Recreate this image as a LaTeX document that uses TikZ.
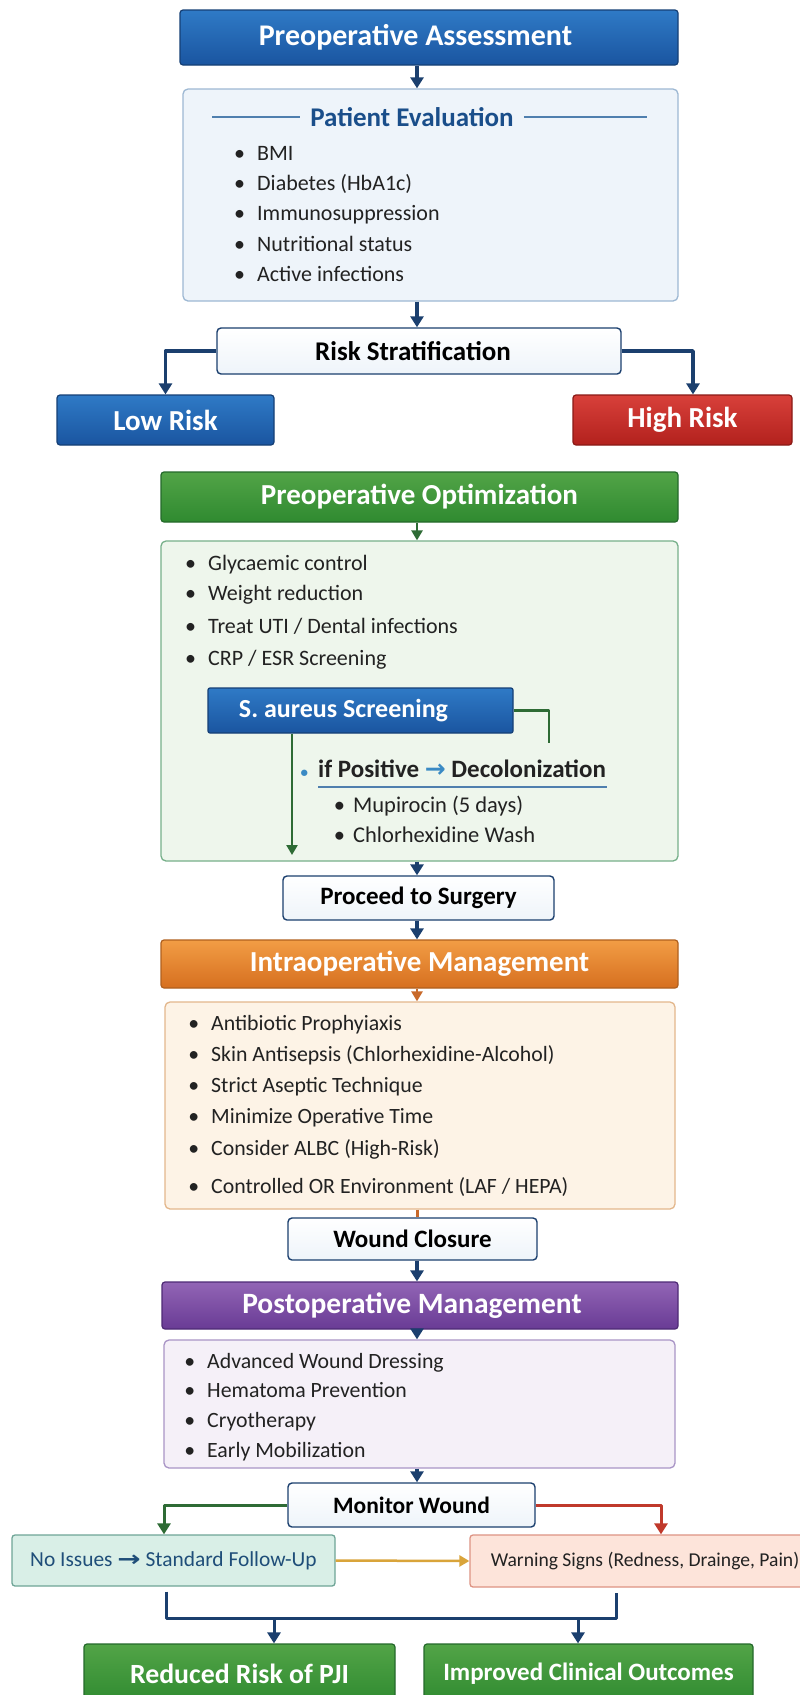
\documentclass[tikz,border=0pt]{standalone}
\usepackage{fontspec}
\usepackage{graphicx}
\setmainfont{Carlito}
\newfontfamily\arrowfont{DejaVu Sans}
\usetikzlibrary{arrows.meta}

\definecolor{navy}{HTML}{1B3F6E}
\definecolor{blueT}{HTML}{2F7AC6}
\definecolor{blueB}{HTML}{1A55A0}
\definecolor{blueD}{HTML}{153F75}
\definecolor{redT}{HTML}{D8403A}
\definecolor{redB}{HTML}{B2211D}
\definecolor{redD}{HTML}{8A1A16}
\definecolor{grnT}{HTML}{52A447}
\definecolor{grnB}{HTML}{2F8A30}
\definecolor{grnD}{HTML}{24692B}
\definecolor{orgT}{HTML}{F29D45}
\definecolor{orgB}{HTML}{D66F1F}
\definecolor{orgD}{HTML}{B0601E}
\definecolor{purT}{HTML}{9265B5}
\definecolor{purB}{HTML}{693B95}
\definecolor{purD}{HTML}{4E2A75}
\definecolor{evalFill}{HTML}{EEF4FA}
\definecolor{evalLine}{HTML}{9DB8D3}
\definecolor{evalText}{HTML}{1A4E8A}
\definecolor{evalRule}{HTML}{4F7FAE}
\definecolor{optFill}{HTML}{EEF6EC}
\definecolor{optLine}{HTML}{77B08A}
\definecolor{grnLink}{HTML}{2E6B35}
\definecolor{intFill}{HTML}{FDF3E6}
\definecolor{intLine}{HTML}{E3B78C}
\definecolor{orgLink}{HTML}{C8692A}
\definecolor{postFill}{HTML}{F5F0F8}
\definecolor{postLine}{HTML}{A995C6}
\definecolor{okFill}{HTML}{D9EFE7}
\definecolor{okLine}{HTML}{6FA597}
\definecolor{okText}{HTML}{1F4E79}
\definecolor{warnFill}{HTML}{FDE4DA}
\definecolor{warnLine}{HTML}{DD9383}
\definecolor{gold}{HTML}{D9A43A}
\definecolor{redLink}{HTML}{C0392B}
\definecolor{dotBlue}{HTML}{3A8AC4}
\definecolor{txt}{HTML}{222222}

\newcommand{\fsz}[1]{\fontsize{#1}{#1}\selectfont}
\newcommand{\bul}{\llap{\textbullet\hspace{12pt}}}

\begin{document}
\begin{tikzpicture}[x=1pt, y=-1pt, >={Triangle[width=13pt,length=11pt]}, line join=round,
  head/.style={rounded corners=3pt, line width=1.2pt, text=white, inner sep=0pt, font=\bfseries\fsz{29}},
  hblue/.style={head, top color=blueT, bottom color=blueB, draw=blueD},
  hred/.style={head, top color=redT, bottom color=redB, draw=redD},
  hgreen/.style={head, top color=grnT, bottom color=grnB, draw=grnD},
  horange/.style={head, top color=orgT, bottom color=orgB, draw=orgD},
  hpurple/.style={head, top color=purT, bottom color=purB, draw=purD},
  panel/.style={rounded corners=5pt, line width=1.3pt, inner sep=0pt},
  stage/.style={rounded corners=4pt, draw=navy, line width=1.4pt, top color=white, bottom color=evalFill, inner sep=0pt, text=black, font=\bfseries\fsz{25}},
  item/.style={anchor=base west, inner sep=0pt, text=txt, font=\fsz{22}},
  link/.style={navy, line width=3.5pt, ->},
  thinlink/.style={line width=2.5pt, ->, >={Triangle[width=11pt,length=10pt]}},
]
\useasboundingbox (0,0) rectangle (800,1695);
\clip (0,0) rectangle (800,1695);
\fill[white] (0,0) rectangle (800,1695);
\coordinate (ax) at (417,0);

% Preoperative assessment
\node[hblue, minimum width=498pt, minimum height=55pt, font=\bfseries\fsz{30}] (asmt) at (429,37.5) {Preoperative Assessment\hspace*{27pt}};
\node[panel, draw=evalLine, fill=evalFill, minimum width=495pt, minimum height=212pt] (eval) at (430.5,195) {};
\node[inner sep=10pt, text=evalText, font=\bfseries\fsz{27}] (evaltitle) at (412,117) {Patient Evaluation};
\draw[evalRule, line width=1.5pt] (212,117) -- (evaltitle.west) (evaltitle.east) -- (647,117);
\foreach \y/\t in {153/BMI, 183/{Diabetes (HbA1c)}, 213/Immunosuppression, 244/{Nutritional status}, 274/{Active infections}}
  \node[item] at (257,\y+7) {\bul\t};

\node[stage, minimum width=404pt, minimum height=46pt, font=\bfseries\fsz{27}] (risk) at (419,351) {Risk Stratification\hspace*{12pt}};
\node[hblue, minimum width=217pt, minimum height=50pt] (low) at (165.5,420) {Low Risk};
\node[hred, minimum width=219pt, minimum height=50pt] (high) at (682.5,420) {High Risk};
\coordinate (hiIn) at (693,0);

\draw[link] (asmt.south -| ax) -- (eval.north -| ax);
\draw[link] (eval.south -| ax) -- (risk.north -| ax);
\draw[link] (risk.west) -| (low.north);
\draw[link] (risk.east) -| (high.north -| hiIn);

% Optimization
\node[hgreen, minimum width=517pt, minimum height=50pt] (opt) at (419.5,497) {Preoperative Optimization};
\node[panel, draw=optLine, fill=optFill, minimum width=517pt, minimum height=320pt] (optbox) at (419.5,701) {};
\foreach \y/\t in {563/{Glycaemic control}, 593/{Weight reduction}, 626/{Treat UTI / Dental infections}, 658/{CRP / ESR Screening}}
  \node[item] at (208,\y+7) {\bul\t};
\node[hblue, rounded corners=2pt, minimum width=305pt, minimum height=45pt, font=\bfseries\fsz{26}] (saur) at (360.5,710.5) {S. aureus Screening\hspace*{34pt}};
\node[item, font=\bfseries\fsz{25}] (decol) at (318,777) {\llap{{\color{dotBlue}\fsz{15}\textbullet}\hspace{10pt}}if Positive {\arrowfont\bfseries\color{dotBlue}→} Decolonization};
\draw[evalRule, line width=1.5pt] (318,787) -- (607,787);
\foreach \y/\t in {805/{Mupirocin (5 days)}, 835/{Chlorhexidine Wash}}
  \node[item, font=\fsz{22.5}] at (353,\y+7) {\llap{\textbullet\hspace{8pt}}\t};
\coordinate (decolTop) at (549,743);
\coordinate (sauEnd) at (292,855);
\draw[grnLink, line width=2.5pt] (saur.east) -| (decolTop);
\draw[grnLink, thinlink] (saur.south -| sauEnd) -- (sauEnd);
\draw[grnLink, thinlink] (opt.south -| ax) -- (optbox.north -| ax);

\node[stage, minimum width=271pt, minimum height=44pt] (proc) at (418.5,898) {Proceed to Surgery};
\draw[link] (optbox.south -| ax) -- (proc.north -| ax);

% Intraoperative
\node[horange, minimum width=517pt, minimum height=48pt] (intra) at (419.5,964) {Intraoperative Management};
\node[panel, draw=intLine, fill=intFill, minimum width=510pt, minimum height=207pt] (intrabox) at (420,1105.5) {};
\foreach \y/\t in {1023/{Antibiotic Prophyiaxis}, 1054/{Skin Antisepsis (Chlorhexidine-Alcohol)}, 1085/{Strict Aseptic Technique}, 1116/{Minimize Operative Time}, 1148/{Consider ALBC (High-Risk)}, 1186/{Controlled OR Environment (LAF / HEPA)}}
  \node[item, font=\fsz{21.8}] at (211,\y+7) {\bul\t};
\draw[link] (proc.south -| ax) -- (intra.north -| ax);
\draw[orgLink, thinlink] (intra.south -| ax) -- (intrabox.north -| ax);

\node[stage, minimum width=249pt, minimum height=42pt] (closure) at (412.5,1239) {Wound Closure};
\draw[orgLink, line width=3pt] (intrabox.south -| ax) -- (closure.north -| ax);

% Postoperative
\node[hpurple, minimum width=516pt, minimum height=47pt, font=\bfseries\fsz{29.5}] (post) at (420,1305.5) {Postoperative Management\hspace*{16pt}};
\node[panel, draw=postLine, fill=postFill, minimum width=511pt, minimum height=128pt] (postbox) at (419.5,1404) {};
\foreach \y/\t in {1361/{Advanced Wound Dressing}, 1390/{Hematoma Prevention}, 1420/Cryotherapy, 1450/{Early Mobilization}}
  \node[item, font=\fsz{21.8}] at (207,\y+7) {\bul\t};
\draw[link] (closure.south -| ax) -- (post.north -| ax);
\draw[link] (post.south -| ax) -- (postbox.north -| ax);

\node[stage, minimum width=247pt, minimum height=44pt, font=\bfseries\fsz{23.5}] (monitor) at (411.5,1505) {Monitor Wound};
\draw[link] (postbox.south -| ax) -- (monitor.north -| ax);

\node[panel, rounded corners=3pt, draw=okLine, fill=okFill, text=okText, minimum width=323pt, minimum height=51pt, font=\fsz{21.4}] (noissue) at (173.5,1560.5) {No Issues {\arrowfont\bfseries\scalebox{1.3}[1]{→}} Standard Follow-Up};
\node[panel, rounded corners=3pt, draw=warnLine, fill=warnFill, text=txt, minimum width=350pt, minimum height=52pt, font=\fsz{19.6}] (warn) at (645,1561) {Warning Signs (Redness, Drainge, Pain)};
\coordinate (okIn) at (164,0);
\coordinate (warnIn) at (661,0);
\draw[grnLink, line width=3pt, ->] (monitor.west) -| (noissue.north -| okIn);
\draw[redLink, line width=3pt, ->] (monitor.east) -| (warn.north -| warnIn);
\draw[gold, thinlink] (noissue.east) -- (warn.west);

% Outcomes
\node[hgreen, minimum width=311pt, minimum height=60pt, font=\bfseries\fsz{27.8}] (pji) at (239.5,1674) {Reduced Risk of PJI};
\node[hgreen, minimum width=329pt, minimum height=60pt, font=\bfseries\fsz{25}] (outcome) at (588.5,1674) {Improved Clinical Outcomes};
\coordinate (mL) at (166,1618);
\coordinate (mR) at (616,1618);
\coordinate (pA) at (274,1618);
\coordinate (oA) at (578,1618);
\draw[navy, line width=3pt] ([yshift=-5pt]noissue.south -| mL) -- (mL) -- (mR) -- ([yshift=-5pt]warn.south -| mR);
\draw[link, line width=3pt] (pA) -- (pji.north -| pA);
\draw[link, line width=3pt] (oA) -- (outcome.north -| oA);
\end{tikzpicture}
\end{document}
